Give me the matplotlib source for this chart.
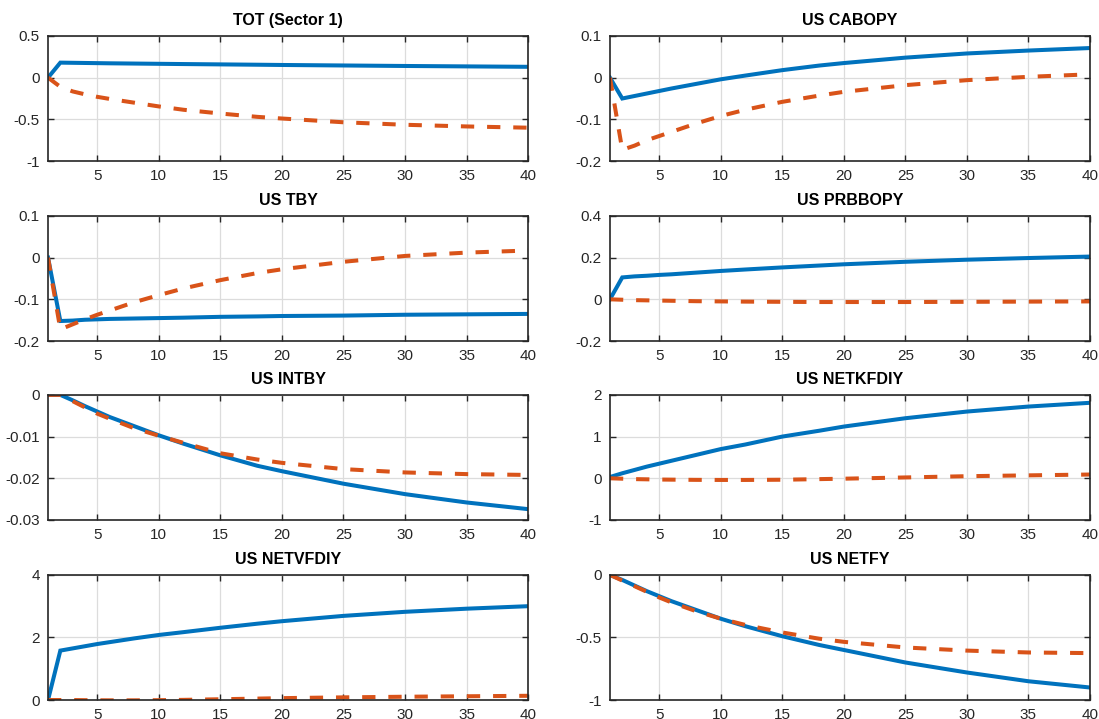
import numpy as np
import matplotlib
matplotlib.use("Agg")
import matplotlib.pyplot as plt
from matplotlib.ticker import FormatStrFormatter

plt.rcParams['font.family'] = ['Liberation Sans', 'DejaVu Sans']
plt.rcParams['axes.unicode_minus'] = False

# Horizons (periods 1..40)
periods = [1, 2, 3, 4, 5, 6, 8, 10, 12, 15, 18, 20, 25, 30, 35, 40]

titles = ["TOT (Sector 1)", "US CABOPY", "US TBY", "US PRBBOPY",
          "US INTBY", "US NETKFDIY", "US NETVFDIY", "US NETFY"]

# solid blue responses
tot_a = [0, 0.18, 0.178, 0.176, 0.174, 0.172, 0.169, 0.166, 0.163, 0.159, 0.155, 0.152, 0.146, 0.140, 0.135, 0.130]
cabopy_a = [0, -0.05, -0.044, -0.038, -0.032, -0.026, -0.015, -0.004, 0.005, 0.018, 0.029, 0.035, 0.048, 0.058, 0.065, 0.071]
tby_a = [0, -0.152, -0.151, -0.149, -0.148, -0.147, -0.146, -0.145, -0.144, -0.142, -0.141, -0.140, -0.139, -0.137, -0.136, -0.135]
prbbopy_a = [0, 0.105, 0.110, 0.113, 0.117, 0.120, 0.128, 0.136, 0.143, 0.153, 0.162, 0.168, 0.180, 0.190, 0.198, 0.205]
intby_a = [0, 0, -0.0013, -0.0027, -0.004, -0.0053, -0.0075, -0.0097, -0.0117, -0.0145, -0.017, -0.0183, -0.0213, -0.0238, -0.0258, -0.0274]
netkfdiy_a = [0.03, 0.12, 0.20, 0.28, 0.35, 0.42, 0.56, 0.70, 0.81, 1.00, 1.14, 1.24, 1.44, 1.60, 1.72, 1.81]
netvfdiy_a = [0, 1.58, 1.65, 1.72, 1.79, 1.85, 1.97, 2.08, 2.17, 2.31, 2.44, 2.52, 2.69, 2.82, 2.92, 3.00]
netfy_a = [0, -0.04, -0.085, -0.13, -0.17, -0.21, -0.28, -0.35, -0.41, -0.49, -0.56, -0.60, -0.70, -0.78, -0.85, -0.90]

# dashed orange responses
tot_b = [0, -0.11, -0.165, -0.20, -0.23, -0.255, -0.30, -0.345, -0.385, -0.43, -0.47, -0.49, -0.535, -0.565, -0.585, -0.60]
cabopy_b = [0, -0.173, -0.163, -0.15, -0.14, -0.13, -0.11, -0.092, -0.077, -0.058, -0.043, -0.034, -0.018, -0.006, 0.002, 0.008]
tby_b = [0, -0.172, -0.16, -0.148, -0.137, -0.127, -0.107, -0.09, -0.074, -0.054, -0.037, -0.028, -0.01, 0.004, 0.012, 0.017]
prbbopy_b = [0, -0.002, -0.004, -0.005, -0.006, -0.007, -0.009, -0.010, -0.011, -0.012, -0.013, -0.013, -0.013, -0.012, -0.011, -0.010]
intby_b = [0, 0, -0.0015, -0.003, -0.0045, -0.0057, -0.008, -0.0098, -0.0115, -0.014, -0.0155, -0.0163, -0.0178, -0.0186, -0.019, -0.0192]
netkfdiy_b = [0, -0.01, -0.02, -0.025, -0.03, -0.033, -0.038, -0.04, -0.04, -0.035, -0.02, -0.01, 0.02, 0.05, 0.07, 0.09]
netvfdiy_b = [0, 0, 0, -0.005, -0.008, -0.01, -0.01, -0.005, 0.005, 0.025, 0.045, 0.06, 0.085, 0.105, 0.12, 0.135]
netfy_b = [0, -0.045, -0.09, -0.135, -0.18, -0.22, -0.29, -0.35, -0.40, -0.46, -0.51, -0.535, -0.58, -0.605, -0.62, -0.625]

series_a = [tot_a, cabopy_a, tby_a, prbbopy_a, intby_a, netkfdiy_a, netvfdiy_a, netfy_a]
series_b = [tot_b, cabopy_b, tby_b, prbbopy_b, intby_b, netkfdiy_b, netvfdiy_b, netfy_b]

yticks = [[-1, -0.5, 0, 0.5], [-0.2, -0.1, 0, 0.1], [-0.2, -0.1, 0, 0.1], [-0.2, 0, 0.2, 0.4],
          [-0.03, -0.02, -0.01, 0], [-1, 0, 1, 2], [0, 2, 4], [-1, -0.5, 0]]
xticks = [5, 10, 15, 20, 25, 30, 35, 40]

fig = plt.figure(figsize=(10.99, 7.19), dpi=100)

lefts = [0.0437, 0.555]
bottoms = [0.776, 0.5257, 0.2768, 0.0264]
w, h = 0.4368, 0.174

for i in range(8):
    ax = fig.add_axes([lefts[i % 2], bottoms[i // 2], w, h])
    ax.plot(periods, series_a[i], color='#0072BD', lw=2.9, solid_joinstyle='miter')
    ax.plot(periods, series_b[i], color='#D95319', lw=2.9, ls=(0, (3.3, 3.2)), dash_capstyle='butt')
    ax.set_xlim(1, 40)
    ax.set_ylim(yticks[i][0], yticks[i][-1])
    ax.set_xticks(xticks)
    ax.set_yticks(yticks[i])
    ax.yaxis.set_major_formatter(FormatStrFormatter('%g'))
    ax.grid(True, color='#dcdcdc', lw=0.9)
    ax.set_axisbelow(True)
    ax.tick_params(direction='in', top=True, right=True, length=4, width=1.0,
                   labelsize=11, colors='#262626', pad=6)
    for sp in ax.spines.values():
        sp.set_color('#262626')
        sp.set_linewidth(1.2)
    ax.set_title(titles[i], fontsize=11.5, fontweight='bold', pad=8)

fig.savefig("out.png", dpi=100)
